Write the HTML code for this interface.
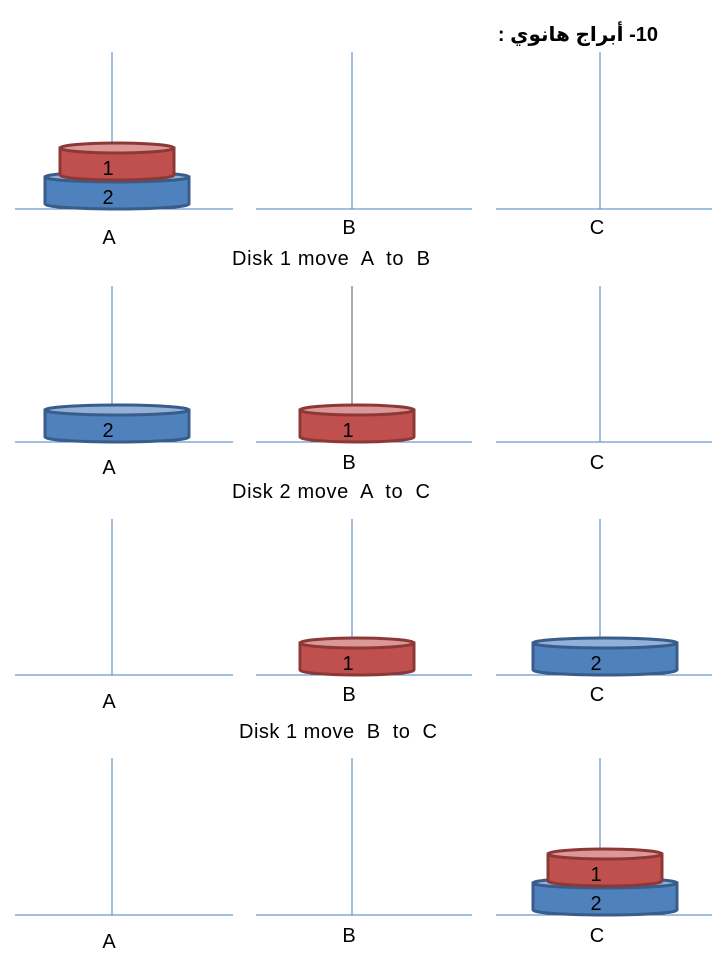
<!DOCTYPE html>
<html><head><meta charset="utf-8"><style>
body{margin:0;background:#fff;width:720px;height:960px;overflow:hidden;position:relative}
svg{display:block}
text{font-family:"Liberation Sans","DejaVu Sans",sans-serif}
#title{position:absolute;left:500px;top:22px;width:158px;text-align:right;font:bold 20px "Liberation Sans","DejaVu Sans",sans-serif;white-space:nowrap}
</style></head><body>
<svg id="s" width="720" height="960"></svg>
<div id="title" dir="rtl">10- أبراج هانوي :</div>
<script>
const pegNames=["A","B","C"];
const pegX=[112,352,600];
const baseRange=[[15,233],[256,472],[496,712]];
const panelBase=[209,442,675,915];
const poleTop=[52,286,519,758];
const labelY=[[237,227,227],[467,462,462],[701,694,694],[941,935,935]];
const captions=["Disk 1 move  A  to  B","Disk 2 move  A  to  C","Disk 1 move  B  to  C"];
const captionPos=[[331,258],[331,491],[338,731]];
// state per panel: pegs' disks bottom to top
const states=[[[2,1],[],[]],[[2],[1],[]],[[],[1],[2]],[[],[],[2,1]]];
const diskW={1:114,2:144};
const diskH=32;
const ns="http://www.w3.org/2000/svg";
const s=document.getElementById('s');
function mk(t,a,p){const e=document.createElementNS(ns,t);for(const k in a)e.setAttribute(k,a[k]);(p||s).appendChild(e);return e;}
function disk(cx,bottom,n){
  const w=diskW[n],ry=5,top=bottom-diskH;
  const red=n===1;
  const fill=red?"#c0504d":"#4f81bd",stroke=red?"#8c3836":"#385d8a",light=red?"#dc9896":"#93b1d8";
  const g=mk('g',{});
  
  
  mk('path',{d:`M${cx-w/2},${top} L${cx-w/2},${bottom-ry} A${w/2},${ry} 0 0 0 ${cx+w/2},${bottom-ry} L${cx+w/2},${top} Z`,fill:fill,stroke:stroke,'stroke-width':3},g);
  mk('ellipse',{cx:cx,cy:top,rx:w/2,ry:ry,fill:light,stroke:stroke,'stroke-width':3},g);
  const t=mk('text',{x:cx-9,y:bottom-5,'text-anchor':'middle','font-size':20,fill:'#000'},g);
  t.textContent=n;
  return top+3;
}
panelBase.forEach((by,pi)=>{
  for(let k=0;k<3;k++){
    const l=mk('line',{x1:baseRange[k][0],x2:baseRange[k][1],y1:by,y2:by,stroke:'#4a7ebb','stroke-width':1});
    
    
    const p=mk('line',{x1:pegX[k],x2:pegX[k],y1:poleTop[pi],y2:by,stroke:(pi===1&&k===1)?'#555':'#4a7ebb','stroke-width':1});
    
    
    const t=mk('text',{x:pegX[k]-3,y:labelY[pi][k]+7,'text-anchor':'middle','font-size':20});
    
    
    t.textContent=pegNames[k];
  }
  states[pi].forEach((stack,k)=>{
    let b=by;
    stack.forEach(n=>{b=disk(pegX[k]+5,b,n);});
  });
});
captions.forEach((c,i)=>{
  const t=mk('text',{x:captionPos[i][0],y:captionPos[i][1]+7,'text-anchor':'middle','font-size':20,'textLength':198,'lengthAdjust':'spacing'});
  
  
  t.style.whiteSpace='pre';
  t.textContent=c;
});
</script>
</body></html>
